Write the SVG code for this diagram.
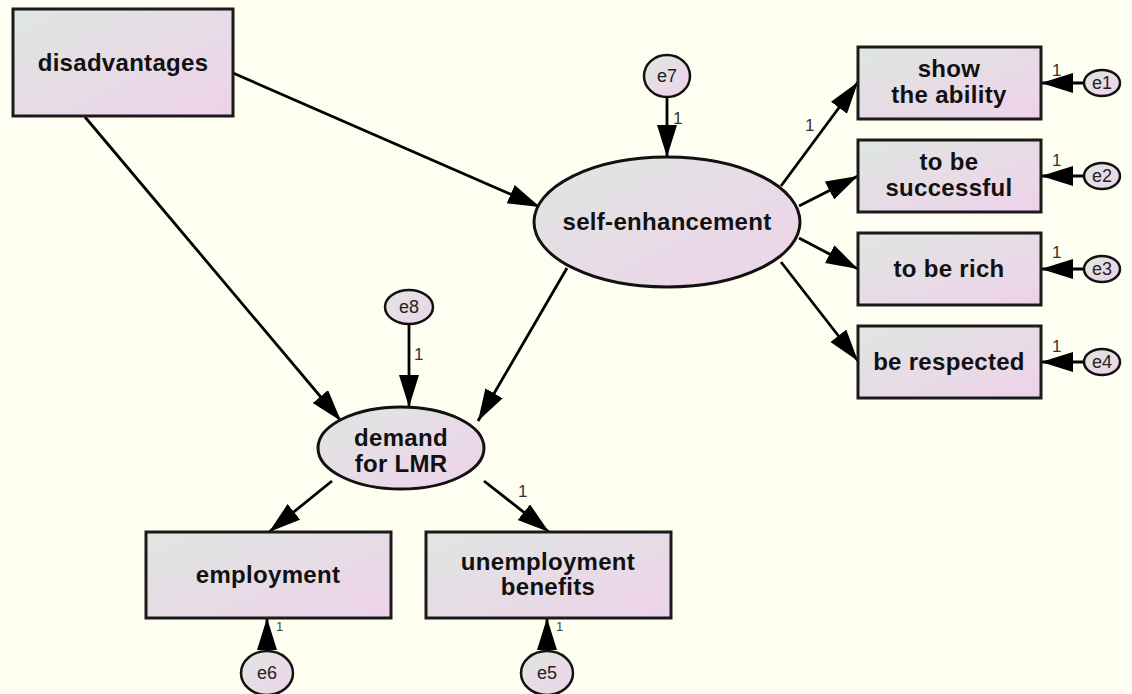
<svg xmlns="http://www.w3.org/2000/svg" width="1132" height="694" viewBox="0 0 1132 694">
  <defs>
    <linearGradient id="fillGrad" x1="0" y1="0" x2="1" y2="1">
      <stop offset="0" stop-color="#dee6e1"/>
      <stop offset="0.55" stop-color="#e8dbe6"/>
      <stop offset="1" stop-color="#eed2ea"/>
    </linearGradient>
    <marker id="arrow" markerUnits="userSpaceOnUse" markerWidth="34" markerHeight="22" refX="32" refY="10" orient="auto">
      <path d="M0,0 L32,10 L0,20 Z" fill="#000"/>
    </marker>
    <style>
      .box { fill: url(#fillGrad); stroke: #1a1a1a; stroke-width: 3; }
      .lat { fill: url(#fillGrad); stroke: #111; stroke-width: 3; }
      .err { fill: url(#fillGrad); stroke: #111; stroke-width: 2.5; }
      .lbl { font-family: "Liberation Sans", Arial, sans-serif; font-weight: bold; font-size: 24px; fill: #111; text-anchor: middle; letter-spacing: 0.3px; }
      .elbl { font-family: "Liberation Sans", Arial, sans-serif; font-size: 18px; fill: #222; text-anchor: middle; }
      .one { font-family: "Liberation Sans", Arial, sans-serif; font-size: 17px; fill: #333; }
      .one-s { font-family: "Liberation Sans", Arial, sans-serif; font-size: 13px; fill: #444; }
      .edge { stroke: #000; stroke-width: 2.8; fill: none; marker-end: url(#arrow); }
    </style>
  </defs>

  <rect width="1132" height="694" fill="#fefff0"/>

  <!-- paths between variables -->
  <g id="connectors">
    <line class="edge" x1="233" y1="73" x2="540" y2="207"/>
    <line class="edge" x1="85" y1="117" x2="341" y2="421"/>
    <line class="edge" x1="667" y1="97" x2="667" y2="157"/>
    <line class="edge" x1="781" y1="186" x2="858" y2="82"/>
    <line class="edge" x1="799" y1="206" x2="858" y2="176"/>
    <line class="edge" x1="799" y1="238" x2="858" y2="269"/>
    <line class="edge" x1="781" y1="262" x2="858" y2="361"/>
    <line class="edge" x1="567" y1="268" x2="478" y2="421"/>
    <line class="edge" x1="409" y1="324" x2="409" y2="407"/>
    <line class="edge" x1="332" y1="481" x2="269" y2="532"/>
    <line class="edge" x1="484" y1="481" x2="549" y2="532"/>
    <line class="edge" x1="267" y1="651" x2="267" y2="618"/>
    <line class="edge" x1="547" y1="651" x2="547" y2="618"/>
    <line class="edge" x1="1084" y1="83" x2="1041" y2="83"/>
    <line class="edge" x1="1084" y1="176" x2="1041" y2="176"/>
    <line class="edge" x1="1084" y1="269" x2="1041" y2="269"/>
    <line class="edge" x1="1084" y1="362" x2="1041" y2="362"/>
    <text class="one" x="673" y="124">1</text>
    <text class="one" x="805" y="131">1</text>
    <text class="one" x="1052" y="76">1</text>
    <text class="one" x="1052" y="166">1</text>
    <text class="one" x="1052" y="258">1</text>
    <text class="one" x="1052" y="352">1</text>
    <text class="one" x="414" y="360">1</text>
    <text class="one" x="518" y="497">1</text>
    <text class="one-s" x="276" y="631">1</text>
    <text class="one-s" x="556" y="631">1</text>
  </g>

  <g id="disadvantages">
    <rect class="box" x="13" y="9" width="220" height="107"/>
    <text class="lbl" x="123" y="71">disadvantages</text>
  </g>

  <g id="self-enhancement">
    <ellipse class="lat" cx="667" cy="222" rx="133" ry="65"/>
    <text class="lbl" x="667" y="230">self-enhancement</text>
  </g>

  <g id="demand">
    <ellipse class="lat" cx="401" cy="448" rx="83" ry="41"/>
    <text class="lbl" x="401" y="446">demand</text>
    <text class="lbl" x="401" y="472">for LMR</text>
  </g>

  <g id="show-ability">
    <rect class="box" x="858" y="47" width="183" height="72"/>
    <text class="lbl" x="949" y="77">show</text>
    <text class="lbl" x="949" y="103">the ability</text>
  </g>

  <g id="successful">
    <rect class="box" x="858" y="140" width="183" height="72"/>
    <text class="lbl" x="949" y="170">to be</text>
    <text class="lbl" x="949" y="196">successful</text>
  </g>

  <g id="rich">
    <rect class="box" x="858" y="233" width="183" height="72"/>
    <text class="lbl" x="949" y="277">to be rich</text>
  </g>

  <g id="respected">
    <rect class="box" x="858" y="326" width="183" height="72"/>
    <text class="lbl" x="949" y="370">be respected</text>
  </g>

  <g id="employment">
    <rect class="box" x="146" y="532" width="245" height="86"/>
    <text class="lbl" x="268" y="583">employment</text>
  </g>

  <g id="unemployment">
    <rect class="box" x="426" y="532" width="245" height="86"/>
    <text class="lbl" x="548" y="570">unemployment</text>
    <text class="lbl" x="548" y="595">benefits</text>
  </g>

  <g id="e1">
    <ellipse class="err" cx="1102" cy="83" rx="18" ry="13"/>
    <text class="elbl" x="1102" y="89">e1</text>
  </g>
  <g id="e2">
    <ellipse class="err" cx="1102" cy="176" rx="18" ry="13"/>
    <text class="elbl" x="1102" y="182">e2</text>
  </g>
  <g id="e3">
    <ellipse class="err" cx="1102" cy="269" rx="18" ry="13"/>
    <text class="elbl" x="1102" y="275">e3</text>
  </g>
  <g id="e4">
    <ellipse class="err" cx="1102" cy="362" rx="18" ry="13"/>
    <text class="elbl" x="1102" y="368">e4</text>
  </g>
  <g id="e7">
    <ellipse class="err" cx="667" cy="76" rx="23" ry="21"/>
    <text class="elbl" x="667" y="82">e7</text>
  </g>
  <g id="e8">
    <ellipse class="err" cx="409" cy="307" rx="24" ry="17"/>
    <text class="elbl" x="409" y="313">e8</text>
  </g>
  <g id="e6">
    <ellipse class="err" cx="267" cy="673" rx="26" ry="22"/>
    <text class="elbl" x="267" y="679">e6</text>
  </g>
  <g id="e5">
    <ellipse class="err" cx="547" cy="673" rx="26" ry="22"/>
    <text class="elbl" x="547" y="679">e5</text>
  </g>
</svg>
